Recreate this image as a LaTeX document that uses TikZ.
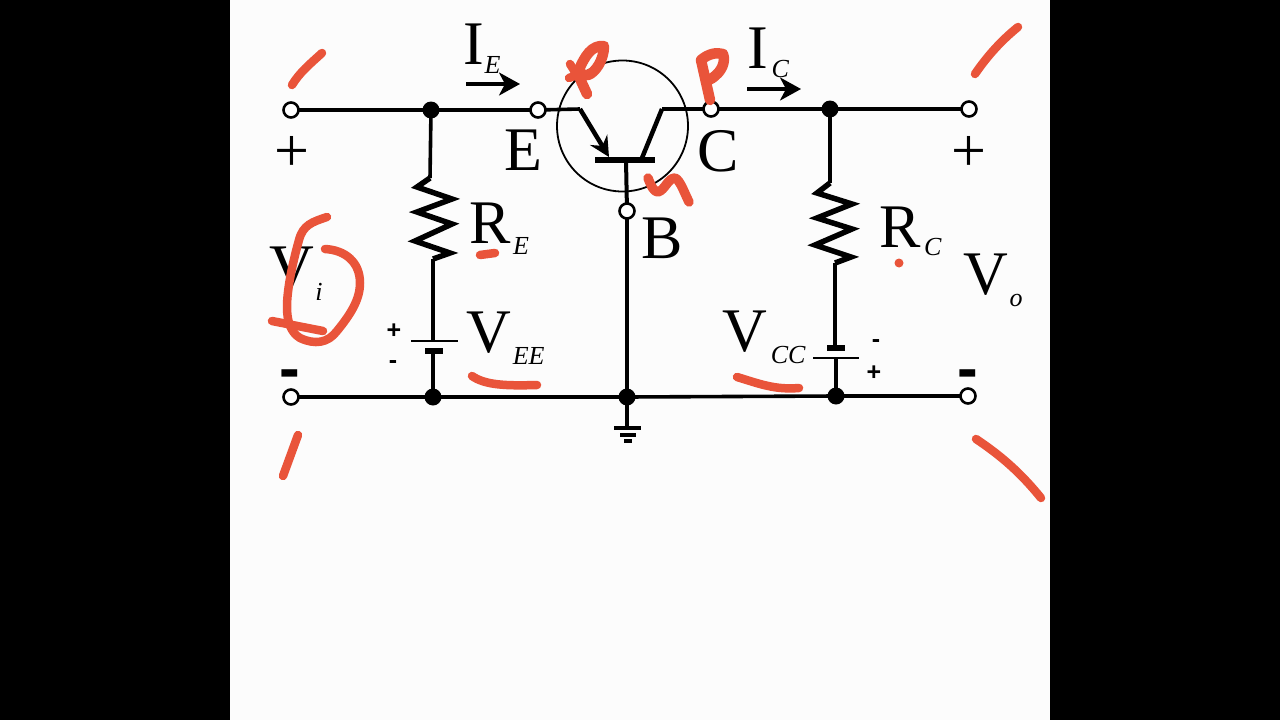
\documentclass[tikz,border=0pt]{standalone}
\usepackage{fontspec}
\setmainfont{Liberation Serif}
\setsansfont{Liberation Sans}
\usetikzlibrary{positioning}
\usetikzlibrary{arrows.meta}
\definecolor{ink}{HTML}{E9543A}
\tikzset{
  wire/.style={line width=3.6pt},
  zig/.style={line width=5.5pt,line join=miter},
  term/.style={circle,draw,fill=white,line width=2.6pt,minimum size=15pt,inner sep=0pt,outer sep=0pt},
  junc/.style={circle,fill=black,minimum size=17pt,inner sep=0pt,outer sep=-1pt},
  big/.style={inner sep=0pt,font=\fontsize{62}{62}\selectfont},
  sub/.style={inner sep=0pt,font=\fontsize{26}{26}\selectfont\itshape},
  pol/.style={inner sep=0pt,font=\sffamily\bfseries\fontsize{25}{25}\selectfont},
  neg/.style={inner sep=0pt,font=\sffamily\bfseries\fontsize{62}{62}\selectfont},
  cur/.style={line width=3.2pt,-{Stealth[length=21pt,width=23pt,inset=6pt]}},
  pen/.style={draw=ink,line width=8.5pt,line cap=round,line join=round},
  fatpen/.style={pen,line width=10.5pt},
}
\begin{document}
\begin{tikzpicture}[x=1pt,y=-1pt]
\useasboundingbox (0,0) rectangle (1280,720);
\fill[black] (0,0) rectangle (1280,720);
\fill[white!99!black] (230,0) rectangle (1050,720);
% circuit
\node[term] (tl) at (291,110) {};
\node[term] (bl) at (291,397) {};
\node[term] (tr) at (969,109) {};
\node[term] (br) at (968,396) {};
\node[term] (te) at (538,110) {};
\node[term] (tc) at (711,109) {};
\node[term] (tb) at (627,211) {};
\node[junc] (jre) at (431,110) {};
\node[junc] (jrc) at (830,109) {};
\node[junc] (jee) at (433,397) {};
\node[junc] (jg) at (627,397) {};
\node[junc] (jcc) at (836,396) {};
\draw[wire] (tl) -- (jre) -- (te) (tc) -- (jrc) -- (tr);
\draw[wire] (bl) -- (jee) -- (jg) -- (jcc) -- (br);
\draw[wire] (tb) -- (jg);
% transistor
\node[circle,draw,line width=1.8pt,minimum size=131pt,inner sep=0pt] (q) at (622.5,126) {};
\coordinate (e1) at (580,109);
\coordinate (e2) at (609,157);
\coordinate (c1) at (662,109);
\coordinate (c2) at (642,158);
\coordinate (b1) at (626,160);
\draw[wire] (te) -- (e1);
\draw[wire,line width=4.5pt,-{Stealth[length=20pt,width=20pt,inset=7pt]}] (e1) -- (e2);
\draw[wire] (tc) -- (c1);
\draw[wire,line width=4.5pt] (c1) -- (c2);
\draw[line width=6.5pt] (595,160) -- (655,160);
\draw[wire,line width=4pt] (b1) -- (tb);
% resistors
\draw[wire] (jre) -- (430,178);
\draw[zig] (430,178) -- (417,187) -- (452,199) -- (417,212) -- (452,224) -- (415,241) -- (450,253) -- (433,259);
\draw[wire] (433,259) -- (433,341);
\draw[wire] (jrc) -- (830,183);
\draw[zig] (830,183) -- (817,193) -- (852,204) -- (817,218) -- (852,229) -- (815,245) -- (851,257) -- (835,263);
\draw[wire] (835,263) -- (835,348);
% batteries
\draw[line width=1.8pt] (411,341) -- (458,341);
\draw[line width=6.5pt] (425,351) -- (443,351);
\draw[wire] (433,351) -- (jee);
\draw[line width=6.5pt] (827,348) -- (845,348);
\draw[line width=1.8pt] (813,358) -- (859,358);
\draw[wire] (836,358) -- (jcc);
% ground
\draw[wire] (jg) -- (627,428);
\draw[line width=3.8pt] (614,428) -- (641,428);
\draw[line width=3.8pt] (620,435) -- (636,435);
\draw[line width=3.8pt] (624,441) -- (632,441);
% current arrows
\draw[cur] (466,84) -- (520,84);
\draw[cur] (747,89) -- (801,89);
% labels
\node[big] (ie) at (474,44) {I};
\node[sub,below right=-8pt and 0pt of ie] (iesub) {E};
\node[big] (ic) at (758,48) {I};
\node[sub,below right=-8pt and 3pt of ic] (icsub) {C};
\node[big] (le) at (523,150) {E};
\node[big] (lc) at (718,151) {C};
\node[big] (lb) at (662,238) {B};
\node[big] (re) at (490,223) {R};
\node[sub,below right=-6pt and 2pt of re] (resub) {E};
\node[big] (rc) at (900,227) {R};
\node[sub,below right=-9pt and 3pt of rc] (rcsub) {C};
\node[big] (vi) at (292,268) {V};
\node[sub] (visub) at (319,292) {i};
\node[big] (vo) at (986,275) {V};
\node[sub] (vosub) at (1016,300) {o};
\node[big] (vee) at (489,333) {V};
\node[sub,below right=-7pt and 1pt of vee] (veesub) {EE};
\node[big] (vcc) at (745,332) {V};
\node[sub,below right=-7pt and 3pt of vcc] (vccsub) {CC};
\node[big] (ptl) at (292,154) {+};
\node[big] (ptr) at (969,154) {+};
\node[neg] (nbl) at (290,380) {-};
\node[neg] (nbr) at (968,380) {-};
\node[pol] (pee) at (394,331) {+};
\node[pol] (nee) at (393,365) {-};
\node[pol] (ncc) at (876,344) {-};
\node[pol] (pcc) at (874,373) {+};
% pen marks
\draw[pen] (292,85) .. controls (300,72) and (310,64) .. (322,53);
\draw[pen] (975,74) .. controls (988,55) and (1002,40) .. (1018,27);
\draw[pen] (283,476) -- (298,435);
\draw[pen] (976,439) .. controls (1000,455) and (1020,472) .. (1041,498);
\draw[pen] (327,217) .. controls (312,222) and (303,225) .. (299,240) .. controls (292,265) and (287,290) .. (287,307) .. controls (287,320) and (290,332) .. (300,338) .. controls (315,345) and (328,343) .. (337,331) .. controls (350,315) and (360,300) .. (360,283) .. controls (360,262) and (345,250) .. (325,249);
\draw[pen] (272,321) -- (323,331);
\draw[pen] (480,255) -- (495,253);
\draw[pen] (472,376) .. controls (485,385) and (505,386) .. (537,385);
\draw[pen] (737,377) .. controls (760,384) and (775,390) .. (799,388);
\fill[ink] (899,263) circle (4.5pt);
\draw[fatpen] (587,94) .. controls (583,85) and (580,80) .. (578,72) .. controls (585,55) and (592,45) .. (604,46) .. controls (604,60) and (595,73) .. (588,75) .. controls (585,75) and (580,75) .. (578,72);
\draw[pen] (570,64) -- (577,75) (569,78) -- (577,75);
\draw[fatpen] (710,100) -- (701,60) .. controls (708,54) and (716,52) .. (723,54) .. controls (726,62) and (721,71) .. (716,75) .. controls (713,78) and (710,80) .. (707,80);
\draw[pen,line width=9.5pt] (648,178) .. controls (651,186) and (654,192) .. (658,192) .. controls (665,190) and (668,178) .. (675,178) .. controls (680,180) and (684,192) .. (689,202);
\end{tikzpicture}
\end{document}
